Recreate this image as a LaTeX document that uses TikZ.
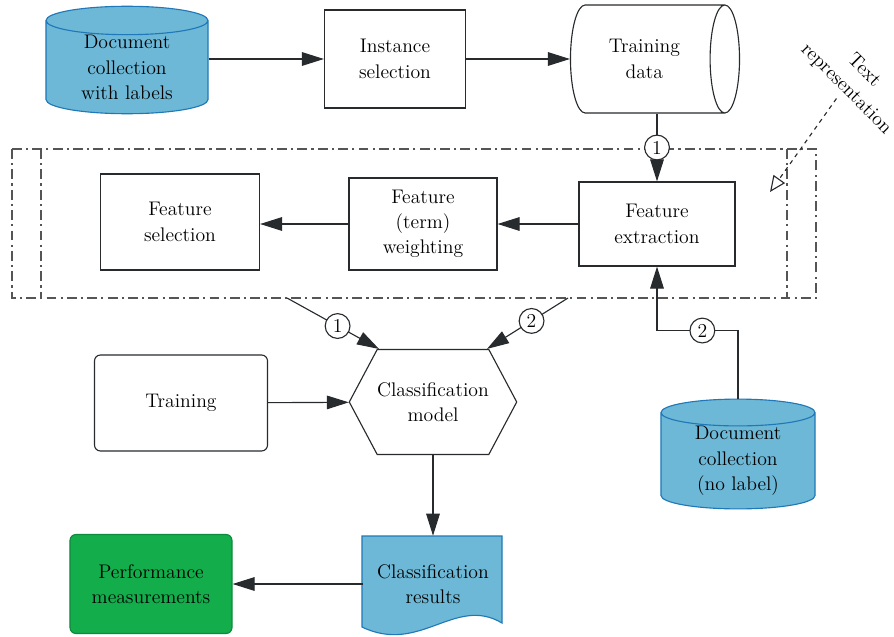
\documentclass[tikz,border=0pt]{standalone}
\usepackage{xcolor}
\usepackage{tikz}
\usetikzlibrary{shapes.geometric, shapes.symbols, arrows.meta, positioning, calc}
\definecolor{DocBlue}{HTML}{6DB8D6}
\definecolor{DocEdge}{HTML}{1F78B8}
\definecolor{PerfGreen}{HTML}{13AD4B}
\definecolor{PerfEdge}{HTML}{0E8A3C}
\definecolor{LineDark}{HTML}{272B2E}
\definecolor{FrameGray}{HTML}{555555}

\begin{document}
\begin{tikzpicture}[x=0.025cm,y=-0.025cm,font=\fontsize{14}{18}\selectfont,
    box/.style={draw=LineDark,line width=0.8pt,fill=white,align=center,inner sep=2pt},
    db/.style={cylinder,shape border rotate=90,aspect=0.31,draw=DocEdge,line width=0.8pt,inner sep=0pt,
        anchor=shape center,cylinder uses custom fill,cylinder body fill=DocBlue,cylinder end fill=DocBlue,align=center},
    arr/.style={-{Triangle[length=5.5mm,width=3.4mm]},line width=0.8pt,draw=LineDark},
    num/.style={circle,draw=LineDark,fill=white,line width=0.8pt,inner sep=0pt,minimum size=0.62cm},
    reprframe/.style={draw=FrameGray,line width=0.8pt,dash pattern=on 7pt off 3pt on 1.5pt off 3pt}]
    \useasboundingbox (0,0) rectangle (894,637);
    % top row
    \node[db,minimum width=4.05cm,minimum height=2.4cm](dcl)at(127,60){Document\\collection\\with labels};
    \node[box,minimum width=3.525cm,minimum height=2.45cm](is)at(395,59){Instance\\selection};
    \node[cylinder,aspect=0.61,draw=LineDark,line width=0.8pt,fill=white,align=center,anchor=shape center,
        minimum width=2.7cm,minimum height=4.225cm](td)at(655,59){Training\\data};
    % text representation block
    \draw[reprframe] (12,149) rectangle (816,298);
    \draw[reprframe] (41,149) -- (41,298) (787,149) -- (787,298);
    \node[box,minimum width=3.9cm,minimum height=2.1cm](fe)at(657,224){Feature\\extraction};
    \node[box,minimum width=3.7cm,minimum height=2.3cm](fw)at(423,224){Feature\\(term)\\weighting};
    \node[box,minimum width=3.975cm,minimum height=2.4cm](fs)at(180,222){Feature\\selection};
    \node[rotate=-45,align=center](trep)at(855,80){Text\\representation};
    \coordinate (trend) at (770,192);
    \coordinate (s1) at (287,298);
    \coordinate (s2) at (568,298);
    % classification
    \node[signal,signal to=east and west,signal pointer angle=124,draw=LineDark,line width=0.8pt,
        fill=white,align=center,inner xsep=0pt,minimum width=4.125cm,minimum height=2.625cm](cm)at(433,402){Classification\\model};
    \coordinate (cmtl) at ($(cm.north)+(-54,0)$);
    \coordinate (cmtr) at ($(cm.north)+(54,0)$);
    \node[box,rounded corners=0.15cm,minimum width=4.325cm,minimum height=2.4cm](tr)at(181,403){Training};
    \node[db,minimum width=3.85cm,minimum height=2.5cm](dcn)at(738,454){Document\\collection\\(no label)};
    % results
    \draw[draw=DocEdge,fill=DocBlue,line width=0.8pt] (362,536) -- (502,536) -- (502,623)
        .. controls (455,595) and (420,655) .. (362,627) -- cycle;
    \node[align=center,minimum width=3.5cm,minimum height=2.4cm](cr)at(433,584){Classification\\results};
    \node[box,fill=PerfGreen,draw=PerfEdge,rounded corners=0.15cm,minimum width=4.05cm,
        minimum height=2.475cm](pm)at(151,584){Performance\\measurements};
    % connectors
    \draw[arr] (dcl.east |- is) -- (is);
    \draw[arr] (is) -- (is -| td.west);
    \draw[arr] (td.south -| fe.north) -- node[num]{1} (fe.north);
    \draw[arr] (fe) -- (fw);
    \draw[arr] (fw.west) -- (fw.west -| fs.east);
    \draw[dashed,line width=0.8pt,draw=LineDark,-{Triangle[open,length=4mm,width=3.5mm]}] (trep.south) -- (trend);
    \draw[arr] (s1) -- node[num,pos=0.55]{1} (cmtl);
    \draw[arr] (s2) -- node[num,pos=0.45]{2} (cmtr);
    \draw[arr] (tr) -- (cm);
    \draw[arr] (dcn.north) -- ++(0,-68) -| node[num,pos=0.22]{2} (fe.south);
    \draw[arr] (cm.south) -- (cr.north);
    \draw[arr] (cr.west) -- (pm);
\end{tikzpicture}
\end{document}
